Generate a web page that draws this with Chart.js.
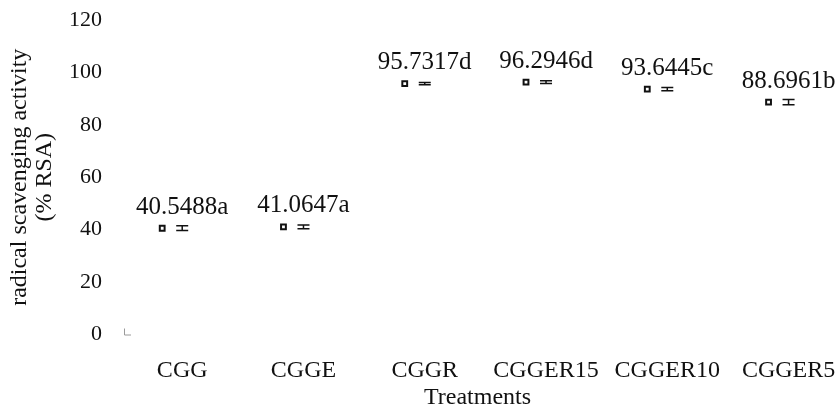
<!DOCTYPE html>
<html>
<head>
<meta charset="utf-8">
<script src="https://cdn.jsdelivr.net/npm/chart.js@4/dist/chart.umd.min.js"></script>
<style>
  html, body { margin: 0; padding: 0; background: #fff; }
  #wrap { width: 837px; height: 407px; }
</style>
</head>
<body>
<div id="wrap"><canvas id="rsaChart"></canvas></div>
<script>
// Chart data
const treatments = ["CGG", "CGGE", "CGGR", "CGGER15", "CGGER10", "CGGER5"];
const rsaMean = [40.5488, 41.0647, 95.7317, 96.2946, 93.6445, 88.6961];
const rsaError = [0.9, 0.7, 0.4, 0.5, 0.6, 1.0];
const groupLetters = ["a", "a", "d", "d", "c", "b"];
const yTicks = [0, 20, 40, 60, 80, 100, 120];

const serif = "'Liberation Serif', 'Times New Roman', serif";

// Error bars, value labels and the little corner mark
const extrasPlugin = {
  id: "extras",
  afterDatasetsDraw(chart) {
    const ctx = chart.ctx;
    const x = chart.scales.x;
    const y = chart.scales.y;
    const area = chart.chartArea;

    ctx.save();
    // corner mark
    ctx.strokeStyle = "#9a9a9a";
    ctx.lineWidth = 1;
    ctx.beginPath();
    ctx.moveTo(area.left + 0.5, area.bottom - 6);
    ctx.lineTo(area.left + 0.5, area.bottom + 0.5);
    ctx.lineTo(area.left + 7, area.bottom + 0.5);
    ctx.stroke();

    for (let i = 0; i < treatments.length; i++) {
      const px = x.getPixelForValue(i);
      const top = y.getPixelForValue(rsaMean[i] + rsaError[i]);
      const bot = y.getPixelForValue(rsaMean[i] - rsaError[i]);

      // error bar
      ctx.strokeStyle = "#111";
      ctx.lineWidth = 1.5;
      ctx.beginPath();
      ctx.moveTo(px - 6, top);
      ctx.lineTo(px + 6, top);
      ctx.moveTo(px - 6, bot);
      ctx.lineTo(px + 6, bot);
      ctx.moveTo(px, top);
      ctx.lineTo(px, bot);
      ctx.stroke();

      // value label
      ctx.fillStyle = "#111";
      ctx.font = "25px " + serif;
      ctx.textAlign = "center";
      ctx.textBaseline = "middle";
      ctx.fillText(rsaMean[i].toFixed(4) + groupLetters[i], px, y.getPixelForValue(rsaMean[i]) - 21);
    }
    ctx.restore();
  },
};

function initializeChart() {
  Chart.defaults.color = "#111";
  Chart.defaults.font.family = serif;

  const markerShift = -0.165;
  const points = rsaMean.map((v, i) => ({ x: i + markerShift, y: v }));

  const ctx = document.getElementById("rsaChart").getContext("2d");
  new Chart(ctx, {
    type: "scatter",
    data: {
      datasets: [
        {
          label: "RSA",
          data: points,
          pointStyle: "rect",
          pointRadius: 3.4,
          pointBorderWidth: 2,
          borderColor: "#111",
          backgroundColor: "#fff",
        },
      ],
    },
    options: {
      responsive: true,
      maintainAspectRatio: false,
      animation: false,
      layout: { padding: { top: 20, right: 0, left: 0, bottom: 0 } },
      scales: {
        x: {
          type: "linear",
          min: -0.48,
          max: 5.35,
          grid: { display: false, drawTicks: false },
          border: { display: false },
          afterBuildTicks: (scale) => {
            scale.ticks = treatments.map((t, i) => ({ value: i }));
          },
          afterFit: (scale) => {
            scale.height = 72.5;
            scale.paddingLeft = 0;
            scale.paddingRight = 0;
          },
          ticks: {
            autoSkip: false,
            maxRotation: 0,
            padding: 22,
            font: { size: 24 },
            callback: (value) => treatments[value],
          },
          title: {
            display: true,
            text: "Treatments",
            font: { size: 24, lineHeight: 0.8 },
            padding: { top: 0, bottom: 0 },
          },
        },
        y: {
          min: 0,
          max: 120,
          grid: { display: false, drawTicks: false },
          border: { display: false },
          afterBuildTicks: (scale) => {
            scale.ticks = yTicks.map((v) => ({ value: v }));
          },
          afterFit: (scale) => {
            scale.width = 124;
            scale.paddingTop = 0;
            scale.paddingBottom = 0;
          },
          ticks: {
            padding: 22,
            font: { size: 22 },
          },
          title: {
            display: true,
            text: ["radical scavenging activity", "(% RSA)"],
            font: { size: 24, lineHeight: 1.05 },
            padding: { top: 7, bottom: 0 },
          },
        },
      },
      plugins: {
        legend: { display: false },
        tooltip: { enabled: false },
      },
    },
    plugins: [extrasPlugin],
  });
}

initializeChart();
</script>
</body>
</html>
